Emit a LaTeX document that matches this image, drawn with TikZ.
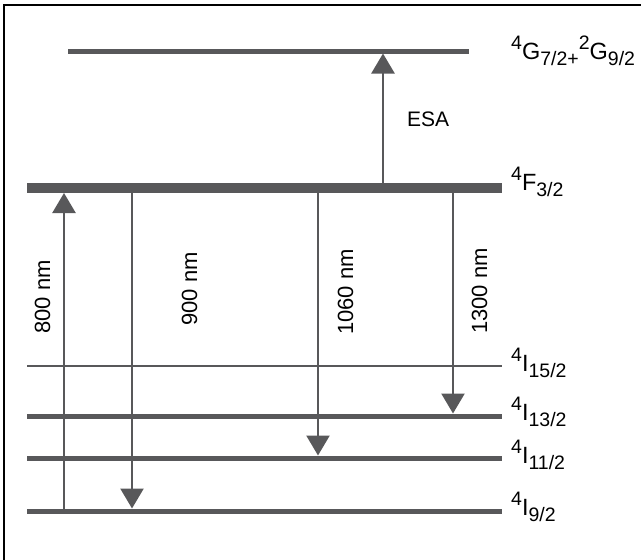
\documentclass[tikz,border=0pt]{standalone}
\usepackage{fontspec}
\setmainfont{Liberation Sans}
\usetikzlibrary{arrows.meta}
\definecolor{lvl}{RGB}{88,88,90}
\newcommand\lsup[1]{\raisebox{10pt}{\fontsize{19.5}{19.5}\selectfont #1}}
\newcommand\lsub[1]{\raisebox{-6.5pt}{\fontsize{19.5}{19.5}\selectfont #1}}
\begin{document}
\begin{tikzpicture}[x=1pt,y=-1pt,
  level/.style={draw=lvl,line width=#1},
  trans/.style={draw=lvl,line width=2.5pt,-{Triangle[width=23pt,length=20pt]}},
  lab/.style={anchor=base west,inner sep=0pt,font=\fontsize{23.5}{23.5}\selectfont},
  wl/.style={anchor=base,rotate=90,inner sep=0pt,font=\fontsize{22}{22}\selectfont}]
\useasboundingbox (0,0) rectangle (641,560);
% frame
\coordinate (fb) at (4,560);
\coordinate (fc) at (4,5);
\coordinate (fr) at (641,5);
\draw[line width=1.5pt] (fb) -- (fc) -- (fr);
% levels
\coordinate (G1) at (68,51);  \coordinate (G2) at (469,51);
\coordinate (F1) at (27,188); \coordinate (F2) at (502,188);
\coordinate (A1) at (27,366); \coordinate (A2) at (502,366);
\coordinate (B1) at (27,416); \coordinate (B2) at (502,416);
\coordinate (C1) at (27,458); \coordinate (C2) at (502,458);
\coordinate (D1) at (27,511); \coordinate (D2) at (502,511);
\draw[level=5pt] (G1) -- (G2);
\draw[level=10pt] (F1) -- (F2);
\draw[level=1.5pt] (A1) -- (A2);
\draw[level=5pt] (B1) -- (B2);
\draw[level=5pt] (C1) -- (C2);
\draw[level=5pt] (D1) -- (D2);
% transitions
\coordinate (t1a) at (64,511);  \coordinate (t1b) at (64,193);
\coordinate (t2a) at (132,188); \coordinate (t2b) at (132,508.5);
\coordinate (t3a) at (318,188); \coordinate (t3b) at (318,455.5);
\coordinate (t4a) at (453,188); \coordinate (t4b) at (453,413.5);
\coordinate (t5a) at (383,188); \coordinate (t5b) at (383,53.5);
\draw[trans] (t1a) -- (t1b);
\draw[trans] (t2a) -- (t2b);
\draw[trans] (t3a) -- (t3b);
\draw[trans] (t4a) -- (t4b);
\draw[trans] (t5a) -- (t5b);
% labels
\node[lab] (lG) at (511,59) {\lsup{4}G\lsub{7/2+}\lsup{2}G\lsub{9/2}};
\node[lab] (lF) at (511,190) {\lsup{4}F\lsub{3/2}};
\node[lab] (lA) at (511,371) {\lsup{4}I\lsub{15/2}};
\node[lab] (lB) at (511,420) {\lsup{4}I\lsub{13/2}};
\node[lab] (lC) at (511,463) {\lsup{4}I\lsub{11/2}};
\node[lab] (lD) at (511,515) {\lsup{4}I\lsub{9/2}};
\node[anchor=base west,inner sep=0pt,font=\fontsize{21}{21}\selectfont] (esa) at (407,126.5) {ESA};
\node[wl] (w1) at (50,297) {800 nm};
\node[wl] (w2) at (197,289) {900 nm};
\node[wl] (w3) at (353,292) {1060 nm};
\node[wl] (w4) at (487,291) {1300 nm};
\end{tikzpicture}
\end{document}
